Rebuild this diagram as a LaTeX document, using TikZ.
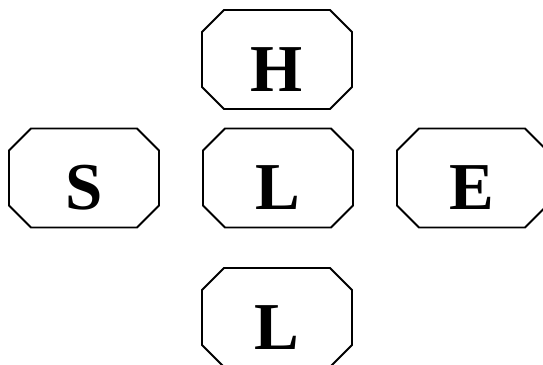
\documentclass[tikz,border=0pt]{standalone}
\usepackage{fontspec}
\setmainfont{Liberation Serif}[BoldFont={Liberation Serif Bold}]
\usetikzlibrary{shapes.misc}
\begin{document}
\begin{tikzpicture}[
  x=1pt, y=-1pt,
  lbox/.style={chamfered rectangle, chamfered rectangle xsep=11pt, chamfered rectangle ysep=11pt,
    draw=black, line width=1.8pt, inner sep=0pt, text width=128pt, align=center,
    text height=70pt, text depth=7pt, font=\fontsize{67}{67}\selectfont\bfseries}
]
  \useasboundingbox (0,0) rectangle (543,364);

  % Fila superior
  \node[lbox] (h) at (277,59.5) {H};

  % Fila central
  \node[lbox] (s) at (84,178) {S};
  \node[lbox] (l) at (278,178) {L};
  \node[lbox] (e) at (472,178) {E};

  % Fila inferior
  \node[lbox] (l2) at (277,317.5) {L};

\end{tikzpicture}
\end{document}
